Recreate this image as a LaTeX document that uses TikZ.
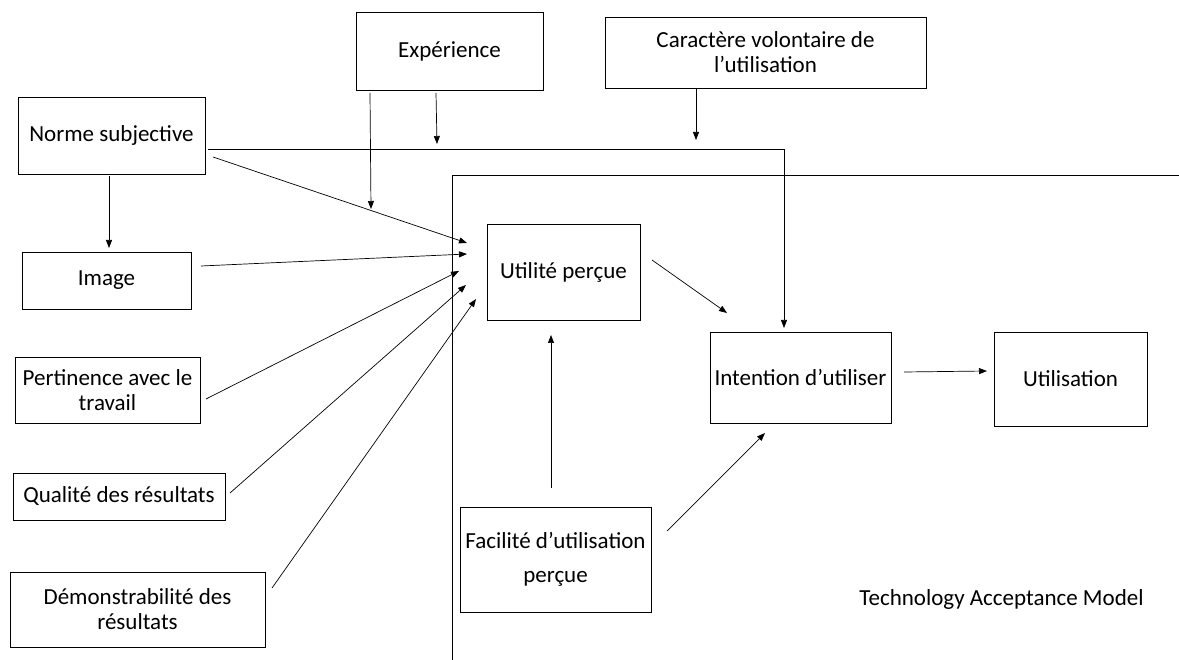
\documentclass[tikz,border=0pt]{standalone}
\usepackage{fontspec}
\setmainfont{Carlito}
\usetikzlibrary{arrows.meta}
\begin{document}
\begin{tikzpicture}[x=1pt,y=-1pt,
  box/.style={draw,line width=0.8pt,align=center,inner sep=0pt,font=\fontsize{23}{25}\selectfont},
  arr/.style={line width=0.7pt,-{Triangle[length=8pt,width=6pt]}},
  ln/.style={line width=0.7pt}]
\useasboundingbox (0,0) rectangle (1179,660);
% frame
\draw[ln] (452,660) -- (452,175) -- (1179,175);
% boxes
\node[box,minimum width=187pt,minimum height=78pt] (exp) at (449.5,51) {Expérience};
\node[box,minimum width=321pt,minimum height=71pt] (car) at (765.5,52.5) {Caractère volontaire de\\l’utilisation};
\node[box,minimum width=187pt,minimum height=77pt] (norme) at (111.5,135.5) {Norme subjective};
\node[box,minimum width=169pt,minimum height=57pt] (image) at (106.5,280.5) {Image};
\node[box,minimum width=185pt,minimum height=66pt] (pert) at (107.5,390) {Pertinence avec le\\travail};
\node[box,minimum width=212pt,minimum height=47pt] (qual) at (119,496.5) {Qualité des résultats};
\node[box,minimum width=255pt,minimum height=75pt] (demo) at (137.5,609.5) {Démonstrabilité des\\résultats};
\node[box,minimum width=153pt,minimum height=96pt] (util) at (563.5,272) {Utilité perçue};
\node[box,minimum width=191pt,minimum height=105pt,font=\fontsize{23}{34}\selectfont] (fac) at (555.5,559.5) {Facilité d’utilisation\\perçue};
\node[box,minimum width=181pt,minimum height=91pt] (int) at (800.5,377.5) {Intention d’utiliser};
\node[box,minimum width=153pt,minimum height=94pt] (usage) at (1070.5,379) {Utilisation};
\node[font=\fontsize{23}{25}\selectfont,inner sep=0pt] (tam) at (1001.5,599) {Technology Acceptance Model};
% connector end points
\coordinate (nImS) at (109,176);
\coordinate (nImE) at (109,248);
\coordinate (nUS) at (213,157);
\coordinate (uA) at (467,243);
\coordinate (iUS) at (201,266);
\coordinate (uB) at (467,254);
\coordinate (pS) at (206,399);
\coordinate (uC) at (459,271);
\coordinate (qS) at (230,493);
\coordinate (uD) at (466,285);
\coordinate (dS) at (272,588);
\coordinate (uE) at (476,299);
\coordinate (e1S) at (370,93);
\coordinate (e1E) at (371,209);
\coordinate (e2S) at (436,93);
\coordinate (e2E) at (437,144);
\coordinate (cS) at (696,88);
\coordinate (cE) at (696,140);
\coordinate (nhS) at (208,149);
\coordinate (nhC) at (784,149);
\coordinate (nhE) at (784,328);
\coordinate (uiS) at (652,260);
\coordinate (uiE) at (727,313);
\coordinate (fuS) at (551,488);
\coordinate (fuE) at (551,335);
\coordinate (fiS) at (667,531);
\coordinate (fiE) at (765,433);
\coordinate (iuS) at (904,372);
\coordinate (iuE) at (987,371);
% connectors
\draw[arr] (nImS) -- (nImE);
\draw[arr] (nUS) -- (uA);
\draw[arr] (iUS) -- (uB);
\draw[arr] (pS) -- (uC);
\draw[arr] (qS) -- (uD);
\draw[arr] (dS) -- (uE);
\draw[arr] (e1S) -- (e1E);
\draw[arr] (e2S) -- (e2E);
\draw[arr] (cS) -- (cE);
\draw[arr] (nhS) -- (nhC) -- (nhE);
\draw[arr] (uiS) -- (uiE);
\draw[arr] (fuS) -- (fuE);
\draw[arr] (fiS) -- (fiE);
\draw[arr] (iuS) -- (iuE);
\end{tikzpicture}
\end{document}
